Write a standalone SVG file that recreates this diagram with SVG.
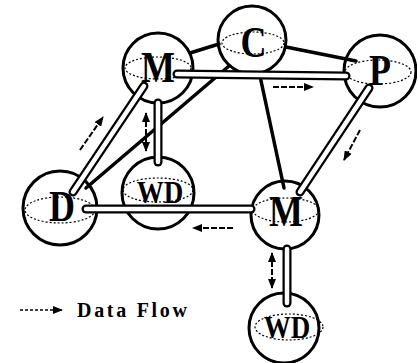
<svg xmlns="http://www.w3.org/2000/svg" width="417" height="363" viewBox="0 0 417 363">
  <style>
    .ball { fill: #fff; stroke: #000; stroke-width: 3; }
    .equator { fill: none; stroke: #000; stroke-width: 1.2; stroke-dasharray: 2 2; }
    .big { font-family: "Liberation Serif", "Times New Roman", serif; font-weight: bold; font-size: 36px; text-anchor: middle; fill: #000; }
    .small { font-family: "Liberation Serif", "Times New Roman", serif; font-weight: bold; font-size: 27px; text-anchor: middle; fill: #000; }
    .link { fill: none; stroke: #000; stroke-width: 3.5; stroke-linecap: round; }
    .pipe-outer { fill: none; stroke: #000; stroke-width: 9; stroke-linecap: round; }
    .pipe-inner { fill: none; stroke: #fff; stroke-width: 4.5; stroke-linecap: round; }
    .flow { fill: none; stroke: #000; stroke-width: 2; stroke-dasharray: 6 2; }
    .legend-line { fill: none; stroke: #000; stroke-width: 1.3; stroke-dasharray: 3 2; }
    .legend-text { font-family: "Liberation Serif", "Times New Roman", serif; font-weight: bold; font-size: 20px; fill: #000; }
  </style>
  <defs>
    <marker id="head" viewBox="0 0 10 8" refX="9" refY="4" markerWidth="10" markerHeight="8" markerUnits="userSpaceOnUse" orient="auto-start-reverse">
      <path d="M0,0 L10,4 L0,8 Z" fill="#000"/>
    </marker>
    <!-- hollow pipe routes -->
    <path id="pipe-m1-p" d="M177,74 L346,76"/>
    <path id="pipe-p-m2" d="M369,88 L300,192"/>
    <path id="pipe-m2-d" d="M251,209 L86,209"/>
    <path id="pipe-m1-d" d="M144,86 L73,192"/>
    <path id="pipe-m1-wd1" d="M158,103 L158,162"/>
    <path id="pipe-m2-wd2" d="M287,249 L287,303"/>
  </defs>

  <!-- nodes -->
  <g id="node-m1" transform="translate(158,68)">
    <circle class="ball" r="35"/>
    <ellipse class="equator" cx="0" cy="0" rx="33" ry="11"/>
    <text class="big" transform="translate(0,14) scale(1,1.22)">M</text>
  </g>
  <g id="node-c" transform="translate(252,40)">
    <circle class="ball" r="34"/>
    <ellipse class="equator" cx="1" cy="3" rx="31" ry="11"/>
    <text class="big" transform="translate(1.5,17) scale(1,1.22)">C</text>
  </g>
  <g id="node-p" transform="translate(380,71)">
    <circle class="ball" r="36"/>
    <ellipse class="equator" cx="-2" cy="1" rx="33" ry="12"/>
    <text class="big" transform="translate(0,14) scale(1,1.22)">P</text>
  </g>
  <g id="node-d" transform="translate(60,208)">
    <circle class="ball" r="37"/>
    <ellipse class="equator" cx="0" cy="2" rx="35" ry="13"/>
    <text class="big" transform="translate(2,13) scale(1,1.22)">D</text>
  </g>
  <g id="node-wd1" transform="translate(158,193)">
    <circle class="ball" r="36"/>
    <ellipse class="equator" cx="0" cy="-3" rx="35" ry="12"/>
    <text class="small" transform="translate(2,9.5) scale(1,1.2)">WD</text>
  </g>
  <g id="node-m2" transform="translate(285,215)">
    <circle class="ball" r="34"/>
    <ellipse class="equator" cx="1" cy="-5" rx="33" ry="12"/>
    <text class="big" transform="translate(1,11) scale(1,1.22)">M</text>
  </g>
  <g id="node-wd2" transform="translate(284,328)">
    <circle class="ball" r="35"/>
    <ellipse class="equator" cx="5" cy="-1" rx="34" ry="13"/>
    <text class="small" transform="translate(3,9.5) scale(1,1.2)">WD</text>
  </g>

  <!-- connectors -->
  <g id="connectors">
    <!-- control links -->
    <line class="link" x1="190" y1="53" x2="219" y2="44"/>
    <line class="link" x1="286" y1="47" x2="356" y2="61"/>
    <line class="link" x1="260" y1="76" x2="284" y2="188"/>
    <line class="link" x1="229" y1="66" x2="86" y2="188"/>
    <!-- data pipes -->
    <use href="#pipe-m1-p" class="pipe-outer"/>
    <use href="#pipe-m1-p" class="pipe-inner"/>
    <use href="#pipe-p-m2" class="pipe-outer"/>
    <use href="#pipe-p-m2" class="pipe-inner"/>
    <use href="#pipe-m2-d" class="pipe-outer"/>
    <use href="#pipe-m2-d" class="pipe-inner"/>
    <use href="#pipe-m1-d" class="pipe-outer"/>
    <use href="#pipe-m1-d" class="pipe-inner"/>
    <use href="#pipe-m1-wd1" class="pipe-outer"/>
    <use href="#pipe-m1-wd1" class="pipe-inner"/>
    <use href="#pipe-m2-wd2" class="pipe-outer"/>
    <use href="#pipe-m2-wd2" class="pipe-inner"/>
    <!-- flow direction arrows -->
    <line class="flow" x1="273" y1="87" x2="313" y2="87" marker-end="url(#head)"/>
    <line class="flow" x1="360" y1="130" x2="344" y2="160" marker-end="url(#head)"/>
    <line class="flow" x1="233" y1="228" x2="193" y2="228" marker-end="url(#head)"/>
    <line class="flow" x1="80" y1="150" x2="103" y2="117" marker-end="url(#head)"/>
    <line class="flow" x1="146" y1="113" x2="146" y2="151" marker-start="url(#head)" marker-end="url(#head)"/>
    <line class="flow" x1="272" y1="253" x2="272" y2="288" marker-start="url(#head)" marker-end="url(#head)"/>
  </g>

  <!-- legend -->
  <g id="legend">
    <line class="legend-line" x1="20" y1="310" x2="62" y2="310" marker-end="url(#head)"/>
    <text class="legend-text" x="77" y="317" textLength="110" lengthAdjust="spacing">Data Flow</text>
  </g>
</svg>
